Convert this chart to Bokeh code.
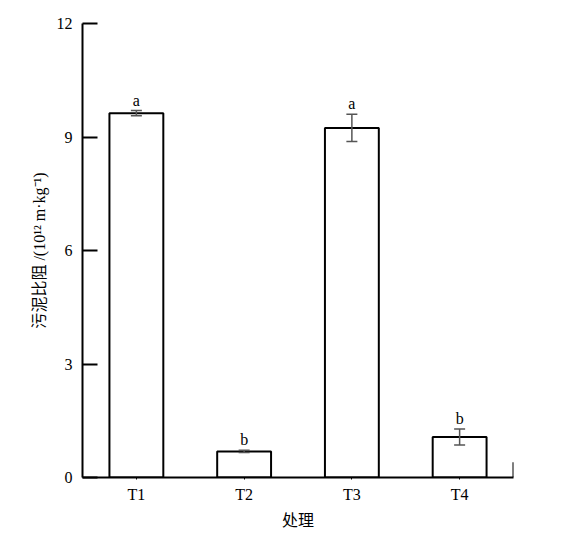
from bokeh.plotting import figure
from bokeh.models import ColumnDataSource, FixedTicker, Whisker, TeeHead, Range1d, LabelSet
from bokeh.embed import file_html
from bokeh.resources import INLINE

categories = ["T1", "T2", "T3", "T4"]
resistance = [9.63, 0.69, 9.24, 1.07]
errors = [0.07, 0.03, 0.36, 0.21]
letters = ["a", "b", "a", "b"]
y_ticks = [0, 3, 6, 9, 12]

FONT = "Liberation Serif, Noto Sans CJK SC"

xs = list(range(1, len(categories) + 1))
src = ColumnDataSource(dict(
    x=xs, top=resistance,
    upper=[v + e for v, e in zip(resistance, errors)],
    lower=[v - e for v, e in zip(resistance, errors)],
    letter=letters,
))

p = figure(width=561, height=532, output_backend="svg", toolbar_location=None,
           x_range=Range1d(0.5, len(categories) + 0.5), y_range=Range1d(0, 12),
           min_border_left=82, min_border_right=48, min_border_top=23, min_border_bottom=55)
p.outline_line_color = None
p.grid.visible = False
p.background_fill_color = "white"
p.border_fill_color = "white"

p.vbar(x="x", top="top", width=0.5, bottom=0, source=src,
       fill_color="white", line_color="black", line_width=2)

w = Whisker(base="x", upper="upper", lower="lower", source=src,
            line_color="#555555", line_width=1.5, level="overlay",
            upper_head=TeeHead(size=11, line_color="#555555", line_width=1.5),
            lower_head=TeeHead(size=11, line_color="#555555", line_width=1.5))
p.add_layout(w)

labels = LabelSet(x="x", y="upper", text="letter", source=src, y_offset=5,
                  text_font="Liberation Serif", text_font_size="16px",
                  text_align="center", text_baseline="alphabetic", text_color="black",
                  level="overlay")
p.add_layout(labels)

# small upright tick at the right end of the x axis
p.segment(x0=[len(categories) + 0.5], x1=[len(categories) + 0.5], y0=[0], y1=[0.4],
          line_color="black", line_width=2)

ya = p.yaxis[0]
ya.ticker = FixedTicker(ticks=y_ticks)
ya.minor_tick_line_color = None
ya.major_tick_in = 15
ya.major_tick_out = 0
ya.axis_line_width = 2
ya.major_tick_line_width = 2
ya.major_label_text_font = FONT
ya.major_label_text_font_size = "16px"
ya.major_label_text_color = "black"
ya.major_label_standoff = 10
ya.axis_label = "污泥比阻 /(10¹² m·kg⁻¹)"
ya.axis_label_text_font = FONT
ya.axis_label_text_font_size = "16px"
ya.axis_label_text_font_style = "normal"
ya.axis_label_text_color = "black"
ya.axis_label_standoff = 6

xa = p.xaxis[0]
xa.ticker = FixedTicker(ticks=xs)
xa.major_label_overrides = {x: c for x, c in zip(xs, categories)}
xa.minor_tick_line_color = None
xa.major_tick_in = 0
xa.major_tick_out = 2
xa.axis_line_width = 2
xa.major_tick_line_width = 1
xa.major_label_text_font = FONT
xa.major_label_text_font_size = "16px"
xa.major_label_text_color = "black"
xa.major_label_standoff = 6
xa.axis_label = "处理"
xa.axis_label_text_font = FONT
xa.axis_label_text_font_size = "16px"
xa.axis_label_text_font_style = "normal"
xa.axis_label_text_color = "black"
xa.axis_label_standoff = 6

open("out.html", "w").write(file_html(p, INLINE))
